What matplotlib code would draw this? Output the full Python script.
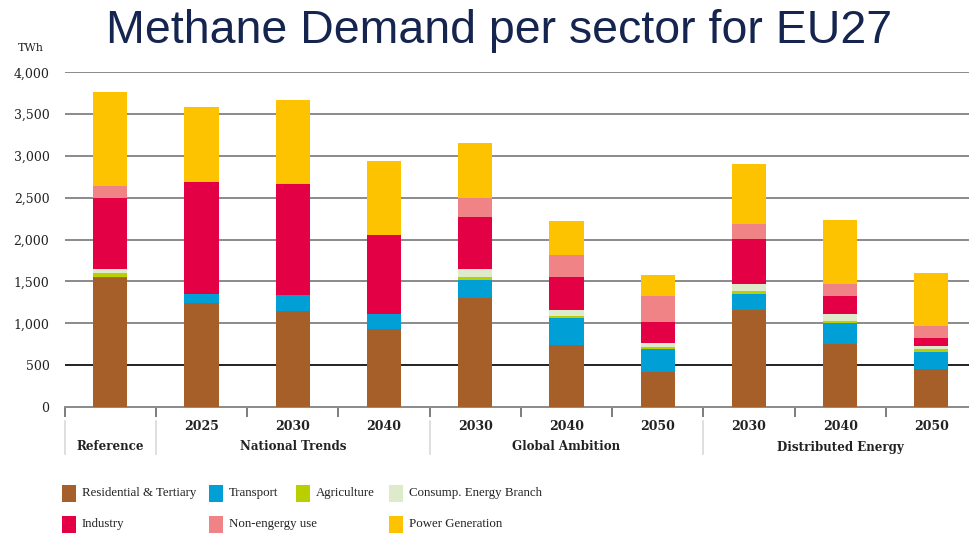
import matplotlib
matplotlib.use("Agg")
import matplotlib.pyplot as plt
import matplotlib.transforms as mtransforms
from matplotlib.patches import Rectangle
import numpy as np

# ---------------- data ----------------
years = ["", "2025", "2030", "2040", "2030", "2040", "2050", "2030", "2040", "2050"]
groups = ["Reference", "National Trends", "Global Ambition", "Distributed Energy"]
group_spans = [(0, 0), (1, 3), (4, 6), (7, 9)]

sectors = ["Residential & Tertiary", "Transport", "Agriculture", "Consump. Energy Branch",
           "Industry", "Non-engergy use", "Power Generation"]

residential = [1543, 1245, 1150, 931, 1306, 744, 422, 1165, 750, 451]
transport   = [12, 108, 186, 183, 211, 315, 267, 184, 252, 203]
agriculture = [44, 0, 0, 0, 36, 24, 24, 32, 24, 36]
consump     = [52, 3, 0, 0, 95, 71, 55, 91, 83, 36]
industry    = [842, 1337, 1333, 946, 617, 399, 247, 531, 216, 96]
non_energy  = [145, 0, 0, 0, 235, 258, 307, 184, 147, 148]
power       = [1126, 887, 1002, 880, 653, 406, 250, 718, 763, 630]

series = [residential, transport, agriculture, consump, industry, non_energy, power]
colors = ["#A65F28", "#00A0D6", "#B9CF00", "#DDEBCB", "#E30045", "#F08385", "#FDC300"]

yticks = [0, 500, 1000, 1500, 2000, 2500, 3000, 3500, 4000]

# ---------------- figure ----------------
W, H = 969, 535
fig = plt.figure(figsize=(W / 100, H / 100), dpi=100)
serif = ["DejaVu Serif"]
legserif = ["Liberation Serif"]

ax_left, ax_right, ax_bottom, ax_top = 64.7, 977.0, 407.0, 72.3
ax = fig.add_axes([ax_left / W, (H - ax_bottom) / H,
                   (ax_right - ax_left) / W, (ax_bottom - ax_top) / H])

x = np.arange(len(years))
bottom = np.zeros(len(years))
for vals, c, name in zip(series, colors, sectors):
    v = np.array(vals, dtype=float)
    ax.bar(x, v, width=0.375, bottom=bottom, color=c, label=name, zorder=3,
           edgecolor="none")
    bottom += v

ax.set_xlim(-0.5, len(years) - 0.5)
ax.set_ylim(0, 4000)

# grid
for yv in yticks[1:]:
    col = "#222222" if yv == 500 else "#8a8a8a"
    ax.axhline(yv, color=col, lw=1.4, zorder=1)

for s in ["top", "right", "left"]:
    ax.spines[s].set_visible(False)
ax.spines["bottom"].set_color("#8a8a8a")
ax.spines["bottom"].set_linewidth(1.4)

ax.set_yticks(yticks)
ax.set_yticklabels([f"{v:,}" for v in yticks], fontfamily=serif, fontsize=9,
                   color="#222222")
ax.tick_params(axis="y", length=0, pad=11)

# x ticks: boundaries (major), labels at centers (minor)
boundaries = np.arange(-0.5, len(years) + 0.5, 1.0)
ax.set_xticks(boundaries)
ax.set_xticklabels([""] * len(boundaries))
ax.tick_params(axis="x", which="major", length=7, width=1.2, color="#666666")
ax.set_xticks(x, minor=True)
ax.set_xticklabels(years, minor=True, fontfamily=serif, fontsize=9,
                   fontweight="bold", color="#222222")
ax.tick_params(axis="x", which="minor", length=0, pad=9)

# group labels and separators
trans = mtransforms.blended_transform_factory(ax.transData, fig.transFigure)
y_grp = (H - 447) / H
for g, (a, b) in zip(groups, group_spans):
    ax.text((a + b) / 2, y_grp, g, transform=trans, ha="center", va="center",
            fontfamily=serif, fontsize=8.6, fontweight="bold", color="#222222")
for xs in [-0.5, 0.5, 3.5, 6.5]:
    ax.plot([xs, xs], [(H - 421) / H, (H - 454) / H], transform=trans,
            color="#d9d9d9", lw=1.2, clip_on=False)

# TWh unit
fig.text(31 / W, (H - 48) / H, "TWh", ha="center", va="center",
         fontfamily=serif, fontsize=8, color="#222222")

# title
fig.text(499 / W, (H - 43.3) / H, "Methane Demand per sector for EU27",
         ha="center", va="baseline", fontfamily="Liberation Sans", fontsize=33.5,
         color="#15254F")

# legend (manual layout)
leg_pos = [(62, 493), (209, 493), (296, 493), (389, 493),
           (62, 524), (209, 524), (389, 524)]
for (px, py), name, c in zip(leg_pos, sectors, colors):
    fig.patches.append(Rectangle((px / W, (H - py - 8.5) / H), 14 / W, 17 / H,
                                 transform=fig.transFigure, facecolor=c,
                                 edgecolor="none"))
    fig.text((px + 20) / W, (H - py) / H, name, ha="left", va="center",
             fontfamily=legserif, fontsize=9.3, color="#222222")

fig.savefig("out.png", dpi=100)
